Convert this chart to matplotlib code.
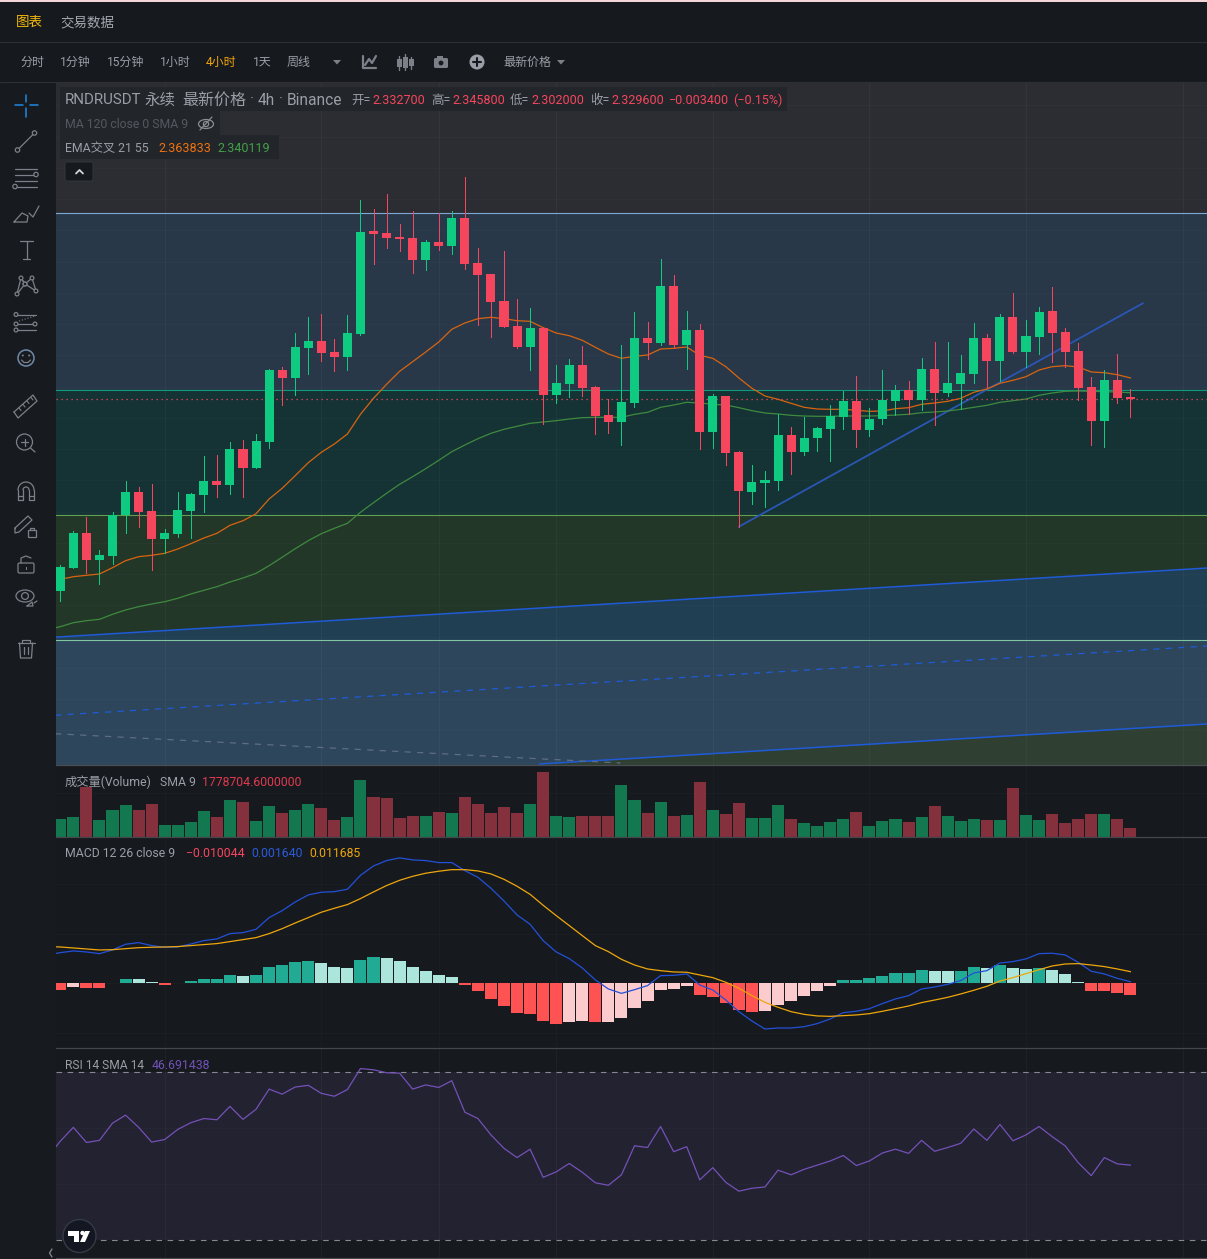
#!/usr/bin/env python3
import numpy as np
import matplotlib
matplotlib.use('Agg')
import matplotlib.pyplot as plt
from matplotlib.patches import Circle, Ellipse, Polygon, Rectangle, FancyBboxPatch

plt.rcParams['font.family'] = ['Roboto', 'Noto Sans CJK SC', 'DejaVu Sans']
plt.rcParams['axes.unicode_minus'] = False

W, H = 1207, 1259

# candles
opens = [2.0234,2.0602,2.1157,2.0730,2.0794,2.1440,2.1813,2.1509,2.1066,2.1146,2.1514,2.1770,2.1989,2.1930,2.2501,2.2202,2.2618,2.3765,2.3642,2.4122,2.4229,2.4053,2.3978,2.4346,2.5989,2.5957,2.5893,2.5877,2.5530,2.5813,2.5754,2.6197,2.5477,2.5301,2.4869,2.4469,2.4138,2.4437,2.3370,2.3546,2.3845,2.3493,2.3045,2.2938,2.3242,2.4277,2.4202,2.5109,2.4170,2.4405,2.2778,2.3349,2.2453,2.1818,2.1957,2.1994,2.2725,2.2458,2.2682,2.2826,2.3018,2.3269,2.2810,2.2986,2.3274,2.3445,2.3290,2.3781,2.3402,2.3546,2.3706,2.4277,2.3914,2.4613,2.4058,2.4298,2.4709,2.4373,2.4069,2.3493,2.2954,2.3605,2.3327]
closes = [2.0613,2.1157,2.0730,2.0805,2.1445,2.1813,2.1498,2.1066,2.1157,2.1525,2.1781,2.1989,2.1925,2.2501,2.2202,2.2629,2.3765,2.3642,2.4133,2.4229,2.4042,2.3978,2.4357,2.5973,2.5946,2.5882,2.5866,2.5530,2.5813,2.5754,2.6197,2.5466,2.5290,2.4858,2.4458,2.4138,2.4437,2.3370,2.3557,2.3845,2.3482,2.3034,2.2938,2.3253,2.4277,2.4202,2.5109,2.4170,2.4405,2.2778,2.3349,2.2442,2.1834,2.1973,2.2005,2.2725,2.2458,2.2677,2.2837,2.3029,2.3269,2.2810,2.2981,2.3285,2.3445,2.3290,2.3781,2.3402,2.3557,2.3717,2.4277,2.3914,2.4613,2.4058,2.4309,2.4693,2.4362,2.4058,2.3482,2.2954,2.3605,2.3322,2.3296]
highs = [2.0645,2.1189,2.1413,2.0885,2.1493,2.1989,2.1893,2.1941,2.1221,2.1813,2.1797,2.2389,2.2405,2.2613,2.2645,2.2741,2.3781,2.3813,2.4357,2.4613,2.4661,2.4261,2.4645,2.6485,2.6341,2.6581,2.6101,2.6309,2.5845,2.6277,2.6309,2.6853,2.5717,2.5301,2.5669,2.4901,2.4757,2.4453,2.3845,2.3941,2.4149,2.3509,2.3301,2.4165,2.4693,2.4533,2.5541,2.5285,2.4709,2.4501,2.3381,2.3349,2.2469,2.2245,2.2149,2.3061,2.2853,2.3013,2.2853,2.3205,2.3429,2.3669,2.3157,2.3765,2.3525,2.3589,2.3957,2.4213,2.4213,2.4005,2.4517,2.4341,2.4661,2.4997,2.4565,2.4773,2.5093,2.4437,2.4197,2.3653,2.3765,2.4021,2.3458]
lows = [2.0069,2.0602,2.0522,2.0346,2.0666,2.1162,2.1258,2.0570,2.0832,2.1098,2.1082,2.1498,2.1738,2.1786,2.1738,2.2202,2.2522,2.3210,2.3370,2.3706,2.3914,2.3754,2.3770,2.4330,2.5466,2.5722,2.5674,2.5322,2.5370,2.5690,2.5626,2.5386,2.4490,2.4298,2.4458,2.4122,2.3770,2.2906,2.3242,2.3338,2.3354,2.2746,2.2762,2.2570,2.3178,2.3946,2.4170,2.4122,2.3786,2.2506,2.2522,2.2250,2.1258,2.1626,2.1578,2.1850,2.2106,2.2410,2.2474,2.2314,2.2826,2.2538,2.2714,2.2906,2.3050,2.3066,2.3130,2.2890,2.3354,2.3141,2.3562,2.3498,2.3594,2.4042,2.3818,2.4026,2.3898,2.3818,2.3290,2.2570,2.2538,2.3242,2.3020]

# the line series start one bar left of the frame
ema21 = [2.0352,2.0416,2.0458,2.0480,2.0501,2.0602,2.0714,2.0778,2.0800,2.0832,2.0901,2.0986,2.1077,2.1152,2.1280,2.1354,2.1466,2.1701,2.1872,2.2074,2.2282,2.2448,2.2581,2.2741,2.3056,2.3312,2.3536,2.3744,2.3898,2.4053,2.4213,2.4416,2.4517,2.4586,2.4608,2.4586,2.4554,2.4544,2.4442,2.4357,2.4314,2.4240,2.4128,2.4021,2.3952,2.3984,2.4005,2.4101,2.4112,2.4133,2.4000,2.3952,2.3818,2.3637,2.3472,2.3349,2.3296,2.3232,2.3168,2.3141,2.3136,2.3136,2.3120,2.3104,2.3109,2.3146,2.3162,2.3216,2.3237,2.3264,2.3312,2.3408,2.3461,2.3552,2.3600,2.3658,2.3765,2.3818,2.3834,2.3813,2.3733,2.3722,2.3690,2.3638]
ema55 = [1.9610,1.9658,1.9722,1.9754,1.9776,1.9856,1.9925,1.9978,2.0021,2.0058,2.0112,2.0181,2.0240,2.0298,2.0373,2.0437,2.0512,2.0634,2.0768,2.0906,2.1034,2.1146,2.1232,2.1312,2.1488,2.1642,2.1792,2.1936,2.2058,2.2186,2.2320,2.2458,2.2565,2.2666,2.2752,2.2816,2.2864,2.2912,2.2933,2.2954,2.2981,2.3002,2.3008,2.3008,2.3008,2.3056,2.3088,2.3168,2.3205,2.3248,2.3237,2.3216,2.3205,2.3162,2.3114,2.3077,2.3061,2.3040,2.3029,2.3024,2.3024,2.3029,2.3029,2.3029,2.3034,2.3045,2.3056,2.3082,2.3093,2.3109,2.3136,2.3168,2.3200,2.3248,2.3274,2.3301,2.3360,2.3397,2.3424,2.3429,2.3424,2.3418,2.3413,2.3401]

volumes = [1702,1899,4846,1604,2586,3078,2586,3176,1113,1113,1408,2488,1899,3569,3372,1506,2979,2292,2586,3176,2783,1604,1899,5533,3863,3765,1801,1997,1997,2390,2292,3863,3176,2292,2881,2292,3176,6319,1997,1899,1997,1997,1997,5042,3569,2292,3372,1997,2095,5337,2586,2194,3274,1801,1801,3078,1702,1310,1015,1408,1702,2390,1015,1506,1702,1408,1899,2979,1997,1506,1702,1604,1604,4747,2095,1604,2194,1310,1702,2194,2194,1702,819]

macd_hist = [-0.0067,-0.0037,-0.0047,-0.0050,0.0003,0.0044,0.0044,0.0013,-0.0017,0.0003,0.0023,0.0044,0.0047,0.0084,0.0074,0.0084,0.0164,0.0184,0.0214,0.0224,0.0204,0.0164,0.0154,0.0235,0.0265,0.0255,0.0224,0.0164,0.0124,0.0084,0.0064,-0.0017,-0.0077,-0.0157,-0.0228,-0.0298,-0.0308,-0.0379,-0.0409,-0.0389,-0.0379,-0.0389,-0.0385,-0.0348,-0.0248,-0.0178,-0.0067,-0.0057,-0.0027,-0.0117,-0.0137,-0.0198,-0.0268,-0.0288,-0.0278,-0.0218,-0.0178,-0.0127,-0.0077,-0.0027,0.0034,0.0037,0.0054,0.0074,0.0104,0.0107,0.0134,0.0124,0.0121,0.0124,0.0164,0.0154,0.0184,0.0154,0.0144,0.0154,0.0134,0.0094,0.0013,-0.0077,-0.0080,-0.0097,-0.0117]
macd_line = [0.0285,0.0308,0.0325,0.0315,0.0298,0.0335,0.0392,0.0409,0.0379,0.0362,0.0365,0.0395,0.0429,0.0446,0.0499,0.0509,0.0543,0.0660,0.0730,0.0817,0.0888,0.0915,0.0921,0.0945,0.1085,0.1179,0.1233,0.1260,0.1240,0.1233,0.1213,0.1213,0.1132,0.1065,0.0955,0.0827,0.0687,0.0593,0.0429,0.0315,0.0248,0.0154,0.0034,-0.0057,-0.0101,-0.0064,-0.0023,0.0077,0.0080,0.0094,-0.0017,-0.0067,-0.0168,-0.0285,-0.0379,-0.0459,-0.0449,-0.0449,-0.0436,-0.0405,-0.0358,-0.0295,-0.0281,-0.0255,-0.0204,-0.0157,-0.0124,-0.0057,-0.0037,-0.0010,0.0027,0.0104,0.0127,0.0204,0.0218,0.0245,0.0298,0.0302,0.0285,0.0211,0.0121,0.0094,0.0050,0.0016]
signal_line = [0.0369,0.0365,0.0355,0.0345,0.0335,0.0338,0.0348,0.0358,0.0362,0.0365,0.0369,0.0379,0.0389,0.0399,0.0419,0.0439,0.0459,0.0499,0.0549,0.0606,0.0660,0.0714,0.0754,0.0791,0.0851,0.0918,0.0982,0.1035,0.1075,0.1106,0.1126,0.1142,0.1142,0.1129,0.1099,0.1045,0.0975,0.0894,0.0784,0.0680,0.0580,0.0479,0.0379,0.0318,0.0241,0.0184,0.0144,0.0127,0.0114,0.0111,0.0084,0.0057,0.0010,-0.0050,-0.0124,-0.0191,-0.0241,-0.0285,-0.0312,-0.0328,-0.0332,-0.0325,-0.0318,-0.0305,-0.0281,-0.0255,-0.0228,-0.0194,-0.0168,-0.0141,-0.0107,-0.0070,-0.0030,0.0023,0.0057,0.0097,0.0137,0.0174,0.0194,0.0198,0.0184,0.0168,0.0144,0.0117]

rsi = [49.7,53.6,56.9,53.3,53.8,57.9,59.8,56.9,53.4,54.0,56.4,58.0,59.0,58.7,61.9,58.8,61.2,66.0,64.8,66.5,66.9,65.0,64.3,65.9,70.9,70.6,69.9,69.8,66.0,67.0,66.4,68.0,60.5,59.0,55.1,51.9,49.7,51.7,45.0,46.3,48.3,46.2,43.7,43.1,45.6,52.5,52.1,57.1,51.1,52.3,44.4,47.3,43.8,41.7,42.4,42.7,46.7,45.6,46.9,47.9,48.9,50.2,47.8,48.9,50.8,51.7,50.7,53.8,51.2,52.1,53.1,56.5,53.8,57.6,53.7,55.1,57.1,54.7,52.5,48.5,45.4,49.7,48.2,47.9]

# horizontal levels and drawn lines, in price
level_top, level_teal, level_green, level_low = 2.6281, 2.3449, 2.1449, 1.9449
last_close = 2.3296
channel_x = [-0.4, 87.9]
channel_upper = [1.9490, 2.0597]
channel_mid = [1.8242, 1.9349]
lower_x = [36.73, 87.9]
lower_y = [1.7461, 1.8101]
grey_x = [-0.4, 42.93]
grey_y = [1.7946, 1.7477]
trend_x = [52, 82.95]
trend_y = [2.1258, 2.4832]
bar_grid = [8, 20, 29, 38, 50, 62, 74, 86]

UP, DOWN = '#0ecb81', '#f6465d'
BG = '#161a1f'
XLIM = ((56 - 60.3) / 13.05, (1207 - 60.3) / 13.05)


def pane(y0, y1, ylim):
    ax = fig.add_axes([56 / W, 1 - y1 / H, (W - 56) / W, (y1 - y0) / H])
    ax.set_xlim(*XLIM)
    ax.set_ylim(*ylim)
    ax.set_facecolor(BG)
    ax.set_axis_off()
    ax.patch.set_visible(True)
    for b in bar_grid:
        ax.axvline(b, color='white', alpha=0.02, lw=0.8, zorder=1)
    return ax


fig = plt.figure(figsize=(W / 100, H / 100), dpi=100, facecolor=BG)
bars = np.arange(len(closes))
line_x = np.arange(-1, len(closes))
colors = [UP if c >= o else DOWN for o, c in zip(opens, closes)]

# price pane
ax = pane(82, 765, (1.7445, 2.8373))
ax.axhspan(level_top, 2.8373, color='#2b2d33', lw=0, zorder=0)
ax.axhspan(level_teal, level_top, color='#283849', lw=0, zorder=0)
ax.axhspan(level_green, level_teal, color='#153335', lw=0, zorder=0)
ax.axhspan(level_low, level_green, color='#233729', lw=0, zorder=0)
ax.axhspan(1.7445, level_low, color='#2d465b', lw=0, zorder=0)
ax.fill_between(channel_x, level_low, channel_upper, color='#203f53', lw=0, zorder=0.5)
ax.fill_between(lower_x, 1.7445, lower_y, color='#2f3f31', lw=0, zorder=0.5)
for p in np.arange(1.75, 2.85, 0.05):
    ax.axhline(p, color='white', alpha=0.02, lw=0.8, zorder=1)
for b in bar_grid:
    ax.axvline(b, color='white', alpha=0.02, lw=0.8, zorder=1)
ax.axhline(level_top, color='#7fa9d4', lw=0.8, zorder=2)
ax.axhline(level_teal, color='#0f9a7d', lw=0.8, zorder=2)
ax.axhline(level_green, color='#5e9f50', lw=0.8, zorder=2)
ax.axhline(level_low, color='#7fc5a2', lw=0.8, zorder=2)
ax.plot(channel_x, channel_upper, color='#1f5bd8', lw=1.1, zorder=3)
ax.plot(channel_x, channel_mid, color='#1f5bd8', lw=0.9, ls=(0, (5, 5)), zorder=3)
ax.plot(lower_x, lower_y, color='#1f5bd8', lw=1.1, zorder=3)
ax.plot(grey_x, grey_y, color='#5f6d82', lw=0.9, ls=(0, (5, 5)), zorder=3)
ax.plot(trend_x, trend_y, color='#2a56b4', lw=1.3, zorder=3)
ax.plot(line_x, ema21, color='#d9640f', lw=0.9, zorder=4)
ax.plot(line_x, ema55, color='#3f8a3f', lw=0.9, zorder=4)
ax.axhline(last_close, color=DOWN, lw=0.9, ls=(0, (1, 3)), zorder=4)
ax.vlines(bars, lows, highs, colors=colors, lw=0.68, antialiased=False, zorder=5)
ax.bar(bars, np.array(closes) - np.array(opens), bottom=opens, width=0.69,
       color=colors, lw=0, zorder=6)

# volume pane
ax_v = pane(766, 836.5, (0, 6923))
ax_v.axhline(4250, color='white', alpha=0.02, lw=0.8)
vol_colors = ['#13784f' if c == UP else '#85303d' for c in colors]
ax_v.bar(bars, volumes, width=0.92, color=vol_colors, lw=0, zorder=3)

# macd pane
ax_m = pane(837, 1047, (-0.0640, 0.1470))
for v in [0.1, 0.05, 0.0, -0.05]:
    ax_m.axhline(v, color='white', alpha=0.02, lw=0.8)
hist_colors = []
prev = macd_hist[0]
for v in macd_hist:
    if v >= 0:
        hist_colors.append('#22ab94' if v > prev else '#ace5dc')
    else:
        hist_colors.append('#fccbcd' if v > prev else '#ff5252')
    prev = v
ax_m.bar(bars, macd_hist, width=0.92, color=hist_colors, lw=0, zorder=3)
ax_m.plot(line_x, macd_line, color='#2350d8', lw=0.9, zorder=4)
ax_m.plot(line_x, signal_line, color='#efa60c', lw=0.9, zorder=5)

# rsi pane
ax_r = pane(1048, 1258, (25.79, 75.79))
ax_r.axhspan(30, 70, color='#232230', lw=0, zorder=0)
for b in bar_grid:
    ax_r.axvline(b, color='white', alpha=0.02, lw=0.8, zorder=1)
for v in [43.33, 56.67]:
    ax_r.axhline(v, color='white', alpha=0.02, lw=0.8)
for v in [30, 70]:
    ax_r.axhline(v, color='#868993', lw=0.8, ls=(0, (5, 5)))
ax_r.plot(line_x, rsi, color='#7451b8', lw=0.9, zorder=4)

# everything around the panes is drawn in pixel coordinates
top = fig.add_axes([0, 0, 1, 1])
top.set_xlim(0, W)
top.set_ylim(H, 0)
top.set_axis_off()
top.patch.set_visible(False)

GREY = '#9a9ea6'
ICON = '#7c8088'


def label(x, y, s, size=12, color=GREY, **kw):
    top.text(x, y + 0.8, s, fontsize=size * 0.72, color=color, va='center', ha='left', **kw)


def seg(points, color=ICON, lw=0.9, **kw):
    pts = np.array(points)
    top.plot(pts[:, 0], pts[:, 1], color=color, lw=lw, solid_capstyle='round', **kw)


def ring(x, y, r=2.2, color=ICON):
    top.add_patch(Circle((x, y), r, fc='#171b20', ec=color, lw=0.9, zorder=6))


# chrome
top.add_patch(Rectangle((0, 0), W, 1.6, fc='#f4d6d8', lw=0))
top.add_patch(Rectangle((0, 82), 56, H - 82, fc='#171b20', lw=0))
for y, c in [(41.5, '#2c2f34'), (81.5, '#2c2f34'), (765, '#4a4d52'), (836.5, '#43464b'),
             (1047.5, '#43464b'), (1258.3, '#43464b')]:
    x0 = 0 if y < 82 else 56
    seg([(x0, y), (W, y)], color=c, lw=0.9)

label(16, 21.5, '图表', 13.5, '#f0b90b')
label(60, 21.5, '交易数据', 13.5, '#a4a8af')
for x, s, c in [(20, '分时', GREY), (60, '1分钟', GREY), (107, '15分钟', GREY), (160, '1小时', GREY),
                (206, '4小时', '#f0a30b'), (253, '1天', GREY), (287, '周线', GREY), (503, '最新价格', GREY)]:
    label(x, 61.5, s, 12, c)
top.add_patch(Polygon([(333, 60), (341, 60), (337, 64.5)], fc=ICON, lw=0))
top.add_patch(Polygon([(557, 60), (565, 60), (561, 64.5)], fc=ICON, lw=0))
seg([(363, 56), (363, 68), (376, 68)], lw=1.6)
seg([(365, 65), (369, 59), (372, 63), (376, 56)], lw=1.6)
for x, a, b, c, d in [(399, 59, 67, 56, 70), (405, 57, 68, 54, 70), (411, 59, 66, 57, 69)]:
    top.add_patch(Rectangle((x - 2.5, a), 5, b - a, fc=ICON, lw=0))
    seg([(x, c), (x, d)], lw=1.0)
top.add_patch(FancyBboxPatch((434, 58), 14, 10, boxstyle='round,pad=0,rounding_size=1.5', fc=ICON, lw=0))
top.add_patch(Rectangle((437, 56), 6, 3, fc=ICON, lw=0))
top.add_patch(Circle((441, 63), 2.4, fc=BG, lw=0))
top.add_patch(Circle((477, 62), 7.5, fc='#9a9ea6', lw=0))
seg([(473, 62), (481, 62)], color=BG, lw=1.5)
seg([(477, 58), (477, 66)], color=BG, lw=1.5)

# legend strips
for x0, y0, x1, y1 in [(60, 87, 787, 111), (60, 111, 220, 135), (60, 135, 279, 159)]:
    top.add_patch(Rectangle((x0, y0), x1 - x0, y1 - y0, fc='#22252a', lw=0))
label(65, 99.5, 'RNDRUSDT', 15, GREY)
label(145, 99.5, '永续', 15.5, GREY)
label(182, 99.5, '最新价格', 16, GREY)
label(250, 99.5, '·', 15, GREY)
label(258, 99.5, '4h', 15.5, GREY)
label(279, 99.5, '·', 15, GREY)
label(287, 99.5, 'Binance', 15.5, GREY)
for x, s in [(351, '开='), (431, '高='), (510, '低='), (590, '收=')]:
    label(x, 100, s, 12.5, GREY)
for x, s in [(372, '2.332700'), (452, '2.345800'), (531, '2.302000'), (611, '2.329600'),
             (669, '−0.003400'), (733, '(−0.15%)')]:
    label(x, 100, s, 12.5, '#f6465d')
label(65, 123.5, 'MA 120 close 0 SMA 9', 12.3, '#55585e')
top.add_patch(Ellipse((206, 124), 15, 9, fc='none', ec='#8a8d93', lw=0.9))
top.add_patch(Circle((206, 124), 2.6, fc='none', ec='#8a8d93', lw=0.9))
seg([(200, 130), (212, 117)], color='#8a8d93')
label(65, 147.5, 'EMA交叉 21 55', 12.3, GREY)
label(158, 147.5, '2.363833', 12.5, '#f0720f')
label(217, 147.5, '2.340119', 12.5, '#43a047')
top.add_patch(FancyBboxPatch((65, 162), 28, 19, boxstyle='round,pad=0,rounding_size=2', fc='#16191e', ec='#33363b', lw=0.7))
seg([(76, 173.5), (79.5, 170), (83, 173.5)], color='#d1d4dc', lw=1.3)

label(65, 781.5, '成交量(Volume)', 12.3, GREY)
label(160, 781.5, 'SMA 9', 12.3, GREY)
label(202, 781.5, '1778704.6000000', 12.2, '#e0394f')
label(65, 853, 'MACD 12 26 close 9', 12.2, GREY)
label(186, 853, '−0.010044', 12.3, '#f6465d')
label(251, 853, '0.001640', 12.3, '#2a5bd8')
label(309, 853, '0.011685', 12.3, '#efa60c')
label(65, 1064.5, 'RSI 14 SMA 14', 12, GREY)
label(152, 1064.5, '46.691438', 12.3, '#7451b8')

# TradingView badge
top.add_patch(Circle((79.5, 1236), 16.5, fc='#131722', ec='#363a45', lw=1))
top.add_patch(Polygon([(68, 1231), (79, 1231), (79, 1242), (74, 1242), (74, 1236), (68, 1236)], fc='white', lw=0))
top.add_patch(Circle((82.5, 1233), 2.2, fc='white', lw=0))
top.add_patch(Polygon([(85, 1231), (90, 1231), (85, 1242), (80, 1242)], fc='white', lw=0))
seg([(52, 1249), (49.5, 1253), (52, 1257)], color='#8a8d93')

# left toolbar icons
blue = '#1e88e5'
for pts in [[(15, 105), (23, 105)], [(30, 105), (38, 105)], [(26, 95), (26, 102)], [(26, 108), (26, 117)]]:
    seg(pts, color=blue, lw=1.1)
seg([(17.5, 150), (34.5, 133)])
ring(17.5, 150)
ring(34.5, 133)
for y in [168.5, 174.5, 180.5, 186.5]:
    seg([(15, y), (37, y)])
ring(36, 174.5)
ring(15, 186.5)
seg([(14, 222), (22, 213), (28, 216), (27, 222), (14, 222)])
seg([(29, 213), (33, 217), (39, 206)])
seg([(20, 241), (33, 241)])
seg([(26.5, 241), (26.5, 259)])
seg([(23, 259), (30, 259)])
pat = [(17, 294), (21, 278), (25, 284), (32, 278), (36, 291)]
seg(pat)
seg([(17, 294), (25, 284), (36, 291)])
seg([(21, 278), (25, 284)])
for x, y in pat + [(25, 284)]:
    ring(x, y, 1.9)
for y in [314.5, 324, 330]:
    seg([(16, y), (36, y)])
seg([(19, 321), (35, 316)], ls=':', lw=0.8)
for x, y in [(16, 314.5), (16, 324), (35, 324), (16, 330)]:
    ring(x, y, 1.9)
top.add_patch(Circle((26, 358), 8, fc='none', ec='#6f8aa8', lw=1.1))
top.add_patch(Circle((22.8, 355.5), 1, fc=ICON, lw=0))
top.add_patch(Circle((29.2, 355.5), 1, fc=ICON, lw=0))
seg([(21.5, 360), (24, 362.5), (28, 362.5), (30.5, 360)])
seg([(14, 412), (18, 418), (37, 401), (33, 395), (14, 412)])
for a, b in [(19, 408), (23, 404.5), (27, 401), (31, 397.5)]:
    seg([(a, b), (a + 2, b + 2.5)], lw=0.8)
top.add_patch(Circle((24.5, 442), 8, fc='none', ec=ICON, lw=0.9))
seg([(30.5, 448), (35, 452)])
seg([(21, 442), (28, 442)])
seg([(24.5, 438.5), (24.5, 445.5)])
t = np.linspace(np.pi, 0, 20)
seg(np.column_stack([26 + 8 * np.cos(t), 490 - 8 * np.sin(t)]))
seg(np.column_stack([26 + 3 * np.cos(t), 490 - 3 * np.sin(t)]))
for x0, x1 in [(18, 23), (29, 34)]:
    seg([(x0, 490), (x0, 500), (x1, 500), (x1, 490)])
    seg([(x0, 496), (x1, 496)])
seg([(15, 528), (28, 516), (32, 520), (19, 532), (15, 533), (15, 528)])
top.add_patch(Rectangle((27.5, 530), 8, 7, fc='none', ec=ICON, lw=0.9))
seg([(29.5, 530), (29.5, 527.5), (33.5, 527.5), (33.5, 530)])
top.add_patch(FancyBboxPatch((18, 563), 16, 10, boxstyle='round,pad=0,rounding_size=1.5', fc='none', ec=ICON, lw=0.9))
seg([(21, 563), (21, 558), (26, 556), (31, 558)])
top.add_patch(Rectangle((25.5, 567), 1.5, 3, fc=ICON, lw=0))
top.add_patch(Ellipse((25, 596), 18, 12, fc='none', ec=ICON, lw=0.9))
top.add_patch(Circle((25, 596), 3.4, fc='none', ec=ICON, lw=0.9))
seg([(27, 606), (32, 602), (33, 606), (27, 606)])
seg([(34, 603), (37, 601)])
seg([(18, 643), (35, 643)])
seg([(22, 643), (22, 640), (30, 640), (30, 643)])
seg([(19.5, 643), (20.5, 658), (31.5, 658), (32.5, 643)])
seg([(24, 647), (24, 654)])
seg([(28, 647), (28, 654)])

fig.savefig('out.png', dpi=100, facecolor=BG)
